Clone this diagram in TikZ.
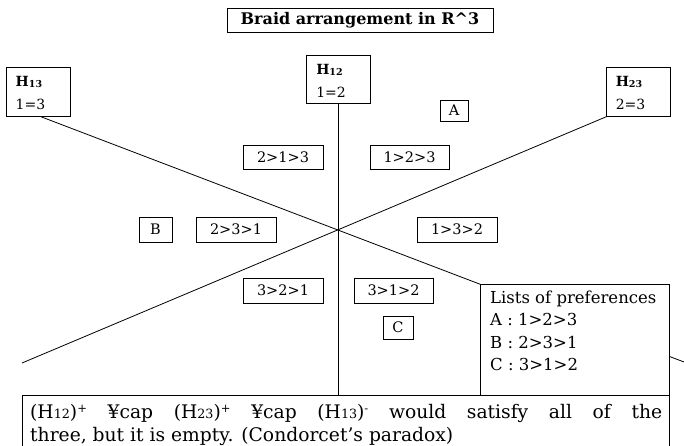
\documentclass[tikz,border=0pt]{standalone}
\usepackage{fontspec}
\setmainfont{DejaVu Serif}
\usepackage{graphicx}
\usetikzlibrary{backgrounds}
\newcommand\subtx[1]{\raisebox{-0.1ex}{\scalebox{0.68}{#1}}}
\newcommand\suptx[1]{\raisebox{0.6ex}{\scalebox{0.62}{#1}}}
\begin{document}
\begin{tikzpicture}[x=1pt,y=-1pt,
  box/.style={draw, line width=0.9pt, fill=white, inner sep=0pt},
  lab/.style={font=\fontsize{14.5}{16}\selectfont},
  hlab/.style={anchor=base west, inner sep=0pt, font=\fontsize{14}{15}\selectfont},
  ltxt/.style={anchor=base west, inner sep=0pt, font=\fontsize{16.5}{18}\selectfont},
  btxt/.style={anchor=base west, inner sep=0pt, font=\fontsize{18.7}{20}\selectfont},
  ln/.style={line width=0.8pt}]
\useasboundingbox (0,0) rectangle (684,446);

% title
\node[box, minimum width=266pt, minimum height=24pt, font=\bfseries\fontsize{16}{18}\selectfont] (title) at (360,20) {Braid arrangement in R\^{}3};

% hyperplane label boxes
\node[box, minimum width=64pt, minimum height=49pt] (H13) at (38,91.5) {};
\node[box, minimum width=64pt, minimum height=48pt] (H12) at (338.5,79) {};
\node[box, minimum width=64pt, minimum height=49pt] (H23) at (638,91.5) {};
\node[hlab] (H13a) at ([xshift=10pt,yshift=-20pt]H13.north west) {\textbf{H\subtx{13}}};
\node[hlab] (H13b) at ([xshift=10pt,yshift=-43pt]H13.north west) {1=3};
\node[hlab] (H12a) at ([xshift=10pt,yshift=-20pt]H12.north west) {\textbf{H\subtx{12}}};
\node[hlab] (H12b) at ([xshift=10pt,yshift=-43pt]H12.north west) {1=2};
\node[hlab] (H23a) at ([xshift=10pt,yshift=-20pt]H23.north west) {\textbf{H\subtx{23}}};
\node[hlab] (H23b) at ([xshift=10pt,yshift=-43pt]H23.north west) {2=3};

% chamber labels
\node[box, lab, minimum width=28pt, minimum height=21pt] (A) at (454,110.5) {A};
\node[box, lab, minimum width=80pt, minimum height=24pt] (c213) at (283,157) {2>1>3};
\node[box, lab, minimum width=79pt, minimum height=24pt] (c123) at (409.5,157) {1>2>3};
\node[box, lab, minimum width=33pt, minimum height=25pt] (B) at (155.5,229.5) {B};
\node[box, lab, minimum width=80pt, minimum height=25pt] (c231) at (236,229.5) {2>3>1};
\node[box, lab, minimum width=80pt, minimum height=25pt] (c132) at (457,229.5) {1>3>2};
\node[box, lab, minimum width=80pt, minimum height=25pt] (c321) at (283,290.5) {3>2>1};
\node[box, lab, minimum width=79pt, minimum height=25pt] (c312) at (393.5,290.5) {3>1>2};
\node[box, lab, minimum width=30pt, minimum height=23pt] (C) at (398,327.5) {C};

% lists box
\node[box, minimum width=189pt, minimum height=111pt] (lists) at (574.5,339.5) {};
\node[ltxt] (l0) at (490,303) {Lists of preferences};
\node[ltxt] (l1) at (490,325.5) {A : 1>2>3};
\node[ltxt] (l2) at (490,348) {B : 2>3>1};
\node[ltxt] (l3) at (490,370.5) {C : 3>1>2};

% bottom box
\node[box, minimum width=647pt, minimum height=60pt] (bot) at (345.5,425) {};
\node[btxt] (b1) at (30,418) {\makebox[632pt][s]{(H\subtx{12})\suptx{+} ¥cap  (H\subtx{23})\suptx{+} ¥cap  (H\subtx{13})\suptx{-} would satisfy all of the}};
\node[btxt] (b2) at (30,441) {three, but it is empty. (Condorcet’s paradox)};

% hyperplanes
\coordinate (O) at (338.5,229.5);
\coordinate (s13) at (39,116);
\coordinate (e13) at (684,362);
\coordinate (s23) at (608,116);
\coordinate (e23) at (22,363);
\begin{pgfonlayer}{background}
\draw[ln] (s13) -- (e13);
\draw[ln] (s23) -- (e23);
\draw[ln] (H12.south) -- (H12.south |- bot.north);
\end{pgfonlayer}
\end{tikzpicture}
\end{document}
